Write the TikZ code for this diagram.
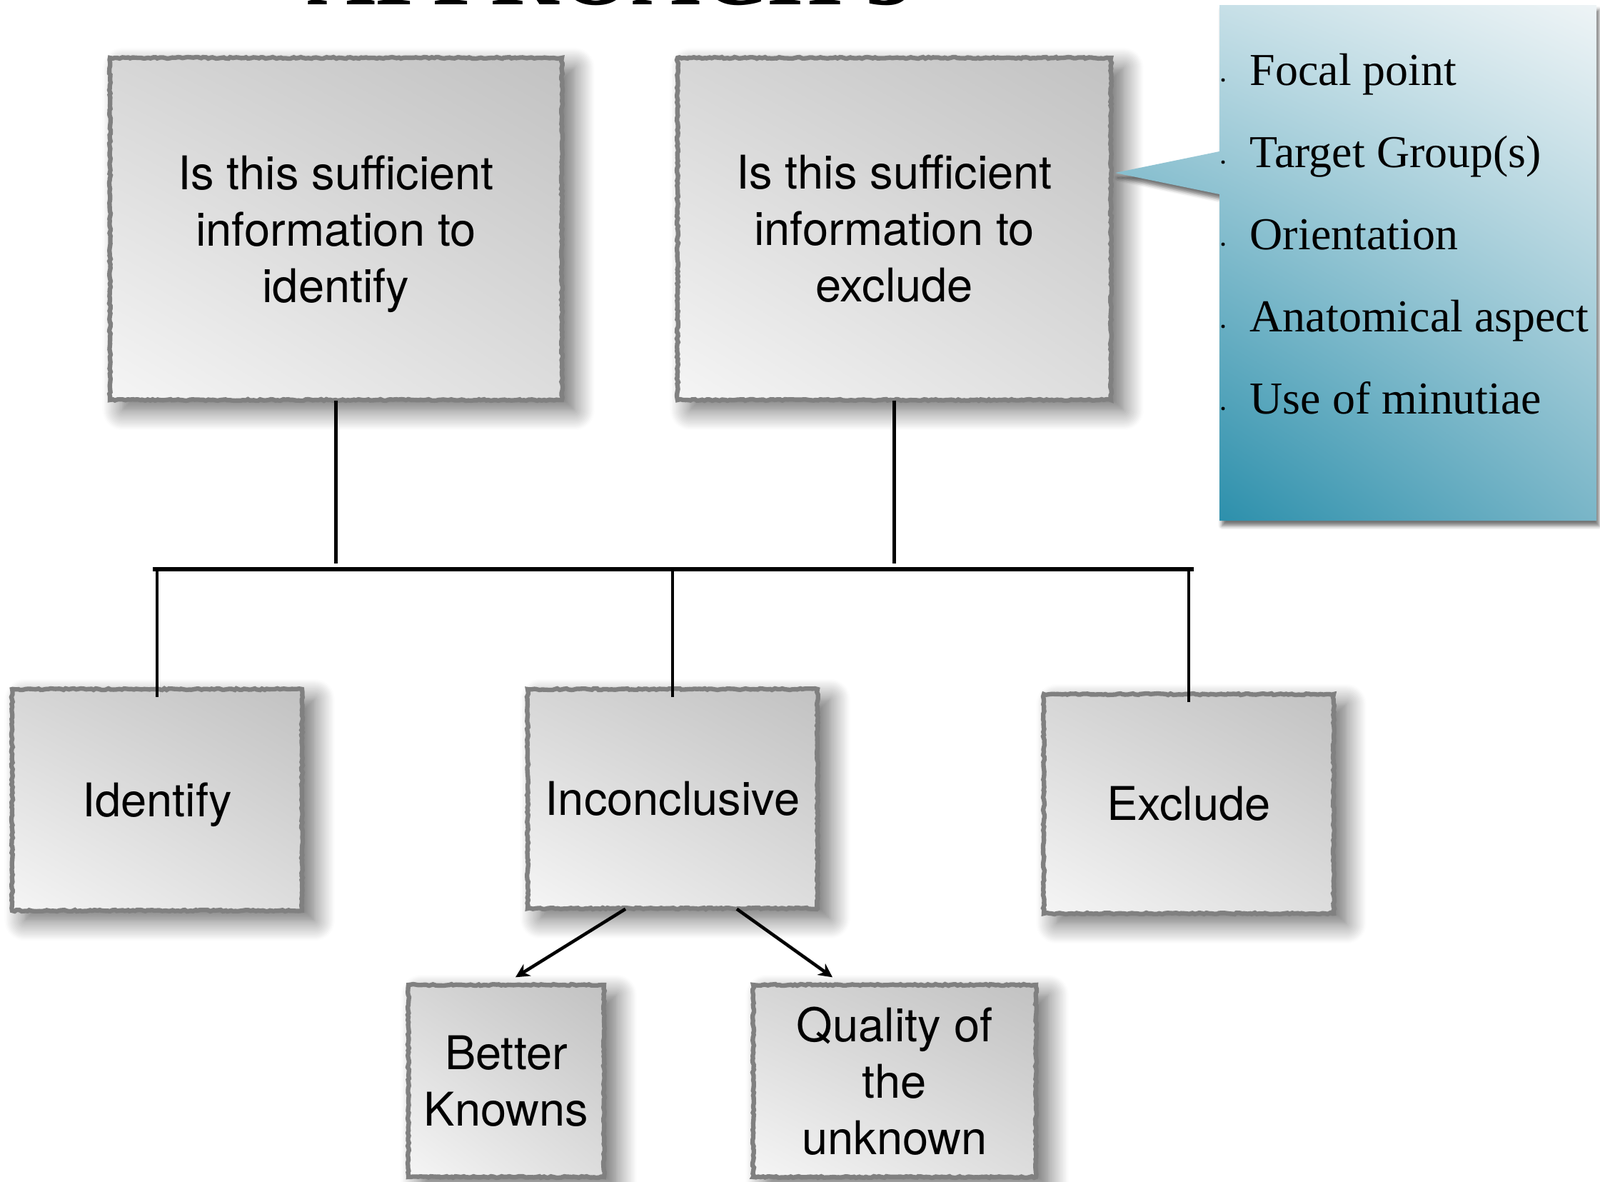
\documentclass[tikz,border=0pt]{standalone}
\usepackage{fontspec}
\setmainfont{Liberation Serif}
\newfontfamily\boxfont{TeX Gyre Heros}
\usetikzlibrary{arrows.meta,shadings,shadows.blur,decorations.pathmorphing}

\definecolor{boxedge}{HTML}{808080}
\definecolor{boxUL}{HTML}{D6D6D6}
\definecolor{boxUR}{HTML}{C2C2C2}
\definecolor{boxLL}{HTML}{F5F5F5}
\definecolor{boxLR}{HTML}{DDDDDD}
\definecolor{callUL}{HTML}{BCDAE3}
\definecolor{callUR}{HTML}{EEF4F6}
\definecolor{callLL}{HTML}{1785A4}
\definecolor{callLR}{HTML}{7AB6C8}

\begin{document}
\begin{tikzpicture}[
    qbox/.style={rectangle, inner sep=0pt, align=center,
      font=\boxfont\fontsize{18.5}{22.5}\selectfont,
      shade, upper left=boxUL, upper right=boxUR,
      lower left=boxLL, lower right=boxLR,
      blur shadow={shadow xshift=5pt, shadow yshift=-4pt,
        shadow blur radius=8pt, shadow blur steps=14, shadow opacity=60},
      postaction={draw=boxedge, line width=1.8pt, decorate,
        decoration={random steps, segment length=1pt, amplitude=0.3pt}}},
    link/.style={line width=1.4pt},
    bar/.style={line width=1.8pt},
    pointer/.style={line width=1.3pt, -{Stealth[length=5.5pt,width=5.5pt]}},
    itemtext/.style={font=\fontsize{18.2}{20}\selectfont, inner sep=0pt}
  ]
  \clip (0,0) rectangle (22.41,-16.54);

  % title, cut at the top
  \node (title) [anchor=base west, inner sep=0pt,
    font=\bfseries\fontsize{37.6}{40}\selectfont] at (4.30,-0.06) {APPROACH 3};

  % questions
  \node (qid) [qbox, minimum width=6.33cm, minimum height=4.79cm]
    at (4.705,-3.205) {Is this sufficient\\information to\\\smash{identify}};
  \node (qex) [qbox, minimum width=6.07cm, minimum height=4.79cm]
    at (12.525,-3.205) {Is this sufficient\\information to\\exclude};

  % outcomes
  \node (idf) [qbox, minimum width=4.06cm, minimum height=3.10cm]
    at (2.20,-11.20) {\raisebox{0pt}[\height][0pt]{Identify}};
  \node (inc) [qbox, minimum width=4.06cm, minimum height=3.07cm]
    at (9.42,-11.185) {Inconclusive};
  \node (exc) [qbox, minimum width=4.06cm, minimum height=3.07cm]
    at (16.65,-11.255) {Exclude};
  \node (bkn) [qbox, minimum width=2.74cm, minimum height=2.69cm]
    at (7.09,-15.135) {Better\\Knowns};
  \node (qun) [qbox, minimum width=3.96cm, minimum height=2.69cm]
    at (12.53,-15.135) {Quality of\\the\\unknown};

  % tree lines
  \coordinate (barL) at (2.14,-7.97);
  \coordinate (barR) at (16.72,-7.97);
  \draw[bar] (barL) -- (barR);
  \draw[link] (qid.south) -- ([yshift=0.08cm]qid.south |- barL);
  \draw[link] (qex.south) -- ([yshift=0.08cm]qex.south |- barL);
  \foreach \n in {idf,inc,exc}
    \draw[link] (\n.north |- barL) -- ([yshift=-0.12cm]\n.north);

  \draw[pointer] ([xshift=-0.66cm]inc.south) -- ([xshift=0.13cm,yshift=0.1cm]bkn.north);
  \draw[pointer] ([xshift=0.90cm]inc.south) -- ([xshift=-0.87cm,yshift=0.1cm]qun.north);

  % callout
  \coordinate (tip) at (15.62,-2.42);
  \path[shade, upper left=callUL, upper right=callUR,
    lower left=callLL, lower right=callLR,
    blur shadow={shadow xshift=1pt, shadow yshift=-2pt,
      shadow blur radius=1.5pt, shadow opacity=55}]
    (17.08,-0.07) -- (22.36,-0.07) -- (22.36,-7.29) -- (17.08,-7.29)
    -- (17.08,-2.72) -- (tip) -- (17.08,-2.12) -- cycle;
  \foreach \t [count=\i] in {Focal point, Target Group(s), Orientation,
      Anatomical aspect, Use of minutiae} {
    \node (item\i) [itemtext, anchor=base west] at (17.50,{-1.19-1.15*(\i-1)}) {\t};
    \fill (17.13,{-1.12-1.15*(\i-1)}) circle (0.025);
  }
\end{tikzpicture}
\end{document}
